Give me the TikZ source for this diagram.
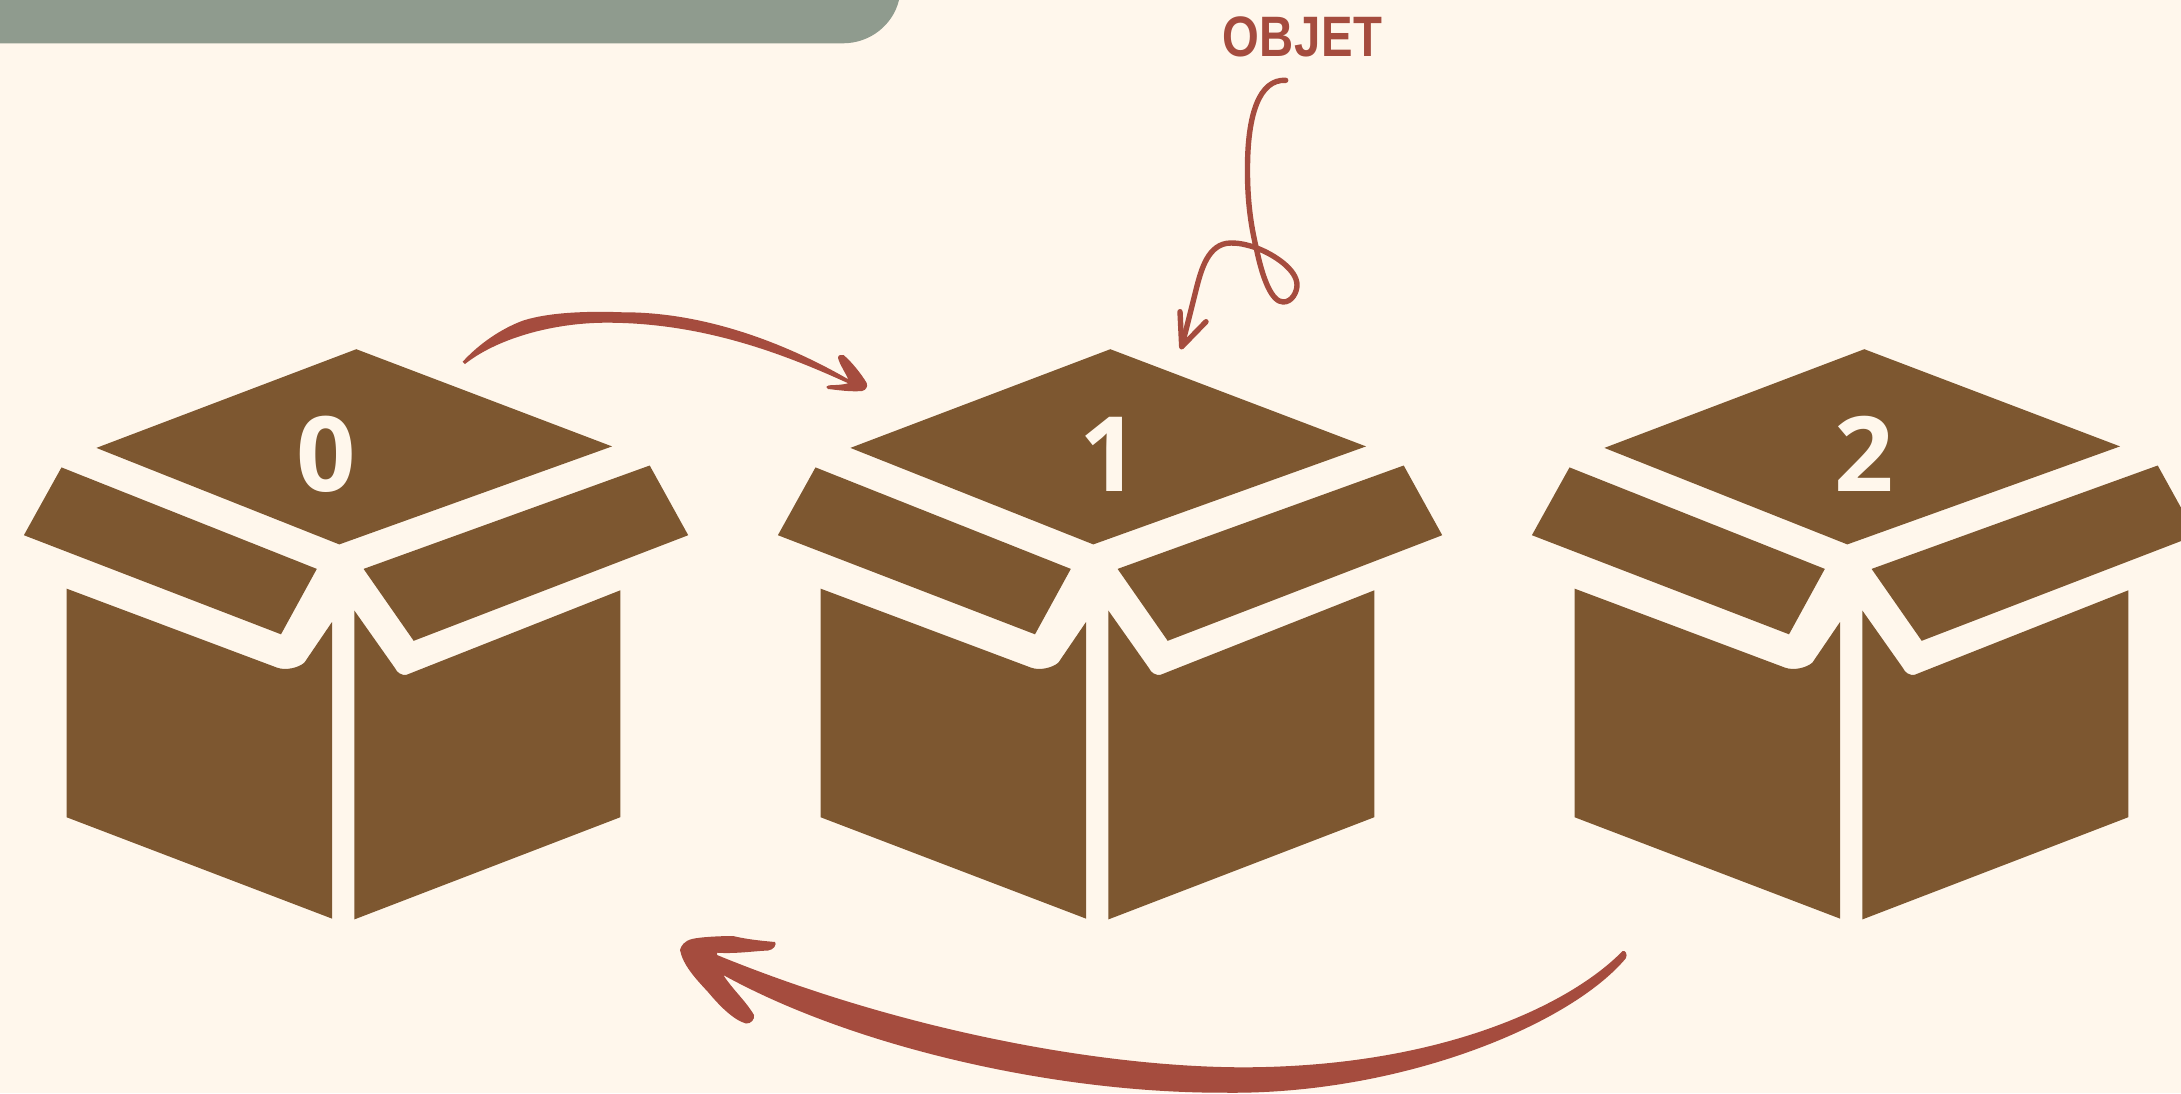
\documentclass[tikz,border=0pt]{standalone}
\usepackage{fontspec}
\setmainfont{Open Sans}
\newfontfamily\objetfont[FakeStretch=0.83,LetterSpace=1]{Liberation Sans}
\definecolor{paper}{HTML}{FFF7EC}
\definecolor{boxbrown}{HTML}{7D5730}
\definecolor{inkred}{HTML}{A54C3E}
\definecolor{banner}{HTML}{8F9B8E}
\tikzset{
  boxpart/.style={fill=boxbrown,draw=none},
  digit/.style={text=paper,font=\fontsize{104}{104}\selectfont\bfseries,inner sep=0pt},
  inkfill/.style={fill=inkred,draw=none},
  inkline/.style={draw=inkred,line width=5.4pt,line cap=round,line join=round},
  pics/cardbox/.style={code={
    \fill[boxpart] (356.3,349.2) -- (612,446.4) -- (339.3,544.4) -- (96.4,447.9) -- cycle;
    \fill[boxpart] (61.5,467.4) -- (316.8,568.9) -- (281,634.3) -- (23.9,535.2) -- cycle;
    \fill[boxpart] (649.7,465.5) -- (688.2,535.2) -- (413.7,640.8) -- (363.6,568.9) -- cycle;
    \fill[boxpart] (66.5,588.6) -- (66.5,817.2) -- (332,918.6) -- (332,622) -- (304.4,662.6)
       .. controls (299,667.5) and (286,671) .. (276.9,667.6) -- cycle;
    \fill[boxpart] (354.4,610.6) -- (354.4,919.4) -- (620.3,817.2) -- (620.3,590.3) -- (406.3,674.9)
       .. controls (402,675.5) and (397,673) .. (394.9,668) -- cycle;
  }}
}
\begin{document}
\begin{tikzpicture}[x=1pt,y=-1pt]
\useasboundingbox (0,0) rectangle (2181,1093);
\clip (0,0) rectangle (2181,1093);
\fill[paper] (0,0) rectangle (2181,1093);
% banner
\fill[banner] (0,0) -- (899,0) .. controls (893,25) and (870,43.3) .. (843,43.3) -- (0,43.3) -- cycle;
% boxes
\pic at (0,0) {cardbox};
\pic at (754,0) {cardbox};
\pic at (1508,0) {cardbox};
\node[digit] (d0) at (326.6,453.9) {0};
\node[digit] (d1) at (1109,453.9) {1};
\node[digit] (d2) at (1864,453.9) {2};
\node[text=inkred,font=\fontsize{57}{57}\selectfont\objetfont\bfseries,inner sep=0pt,anchor=base] (objet) at (1302.5,56.5) {OBJET};
% curly arrow
\coordinate (c0) at (1285.7,80.3);
\coordinate (c9) at (1181.7,346.7);
\draw[inkline] (c0) .. controls (1259,79) and (1248,115) .. (1247.5,165)
  .. controls (1247,205) and (1252,230) .. (1256.7,250)
  .. controls (1263,280) and (1272,302) .. (1283.3,302)
  .. controls (1292,302) and (1297,292) .. (1297,285)
  .. controls (1297,270) and (1275,255) .. (1256.7,248)
  .. controls (1245,244) and (1238,243) .. (1231,243)
  .. controls (1208,243) and (1201,270) .. (1196,290)
  .. controls (1191,310) and (1186,330) .. (c9);
\draw[inkline] (1180,311.7) -- (c9) -- (1206,321.7);
% arrow 0 to 1
\fill[inkfill] (462.7,361.7) .. controls (478,345) and (500,329) .. (523.3,320.5)
  .. controls (550,312) and (590,311) .. (623,312.3)
  .. controls (700,312) and (780,340) .. (848.3,379.3)
  .. controls (845,372) and (840,365) .. (838,358)
  .. controls (838,355) and (841,354) .. (843.5,355)
  .. controls (852,362) and (862,375) .. (866.7,383)
  .. controls (868,387) and (866,390) .. (862,391)
  .. controls (850,392) and (838,390) .. (828,389)
  .. controls (825,387) and (827,385.5) .. (829,385.3)
  .. controls (835,385) and (842,385) .. (848.3,383.3)
  .. controls (780,352) and (700,322.7) .. (606.7,322.7)
  .. controls (550,322.7) and (495,340) .. (465,364) -- cycle;
% arrow 2 to 0
\fill[inkfill] (1622.6,951) .. controls (1570,1005) and (1440,1067) .. (1243,1067.3)
  .. controls (1100,1067) and (900,1030) .. (717,955)
  -- (717,952.7) .. controls (735,954) and (755,951) .. (768,950.5)
  .. controls (774,950) and (777,944) .. (775,942)
  .. controls (765,941) and (750,940) .. (733,936)
  .. controls (720,936) and (700,937) .. (692,939)
  .. controls (684,941) and (681,946) .. (680,950)
  .. controls (683,965) and (695,978) .. (708,992)
  .. controls (718,1004) and (733,1020) .. (746,1023.5)
  .. controls (751,1024) and (755,1019) .. (754,1015)
  .. controls (745,1000) and (733,990) .. (723.3,975)
  .. controls (850,1045) and (1050,1093) .. (1224,1092.7)
  .. controls (1400,1095) and (1570,1025) .. (1625.8,958.3)
  .. controls (1628,954) and (1625,950) .. (1622.6,951) -- cycle;
\end{tikzpicture}
\end{document}
